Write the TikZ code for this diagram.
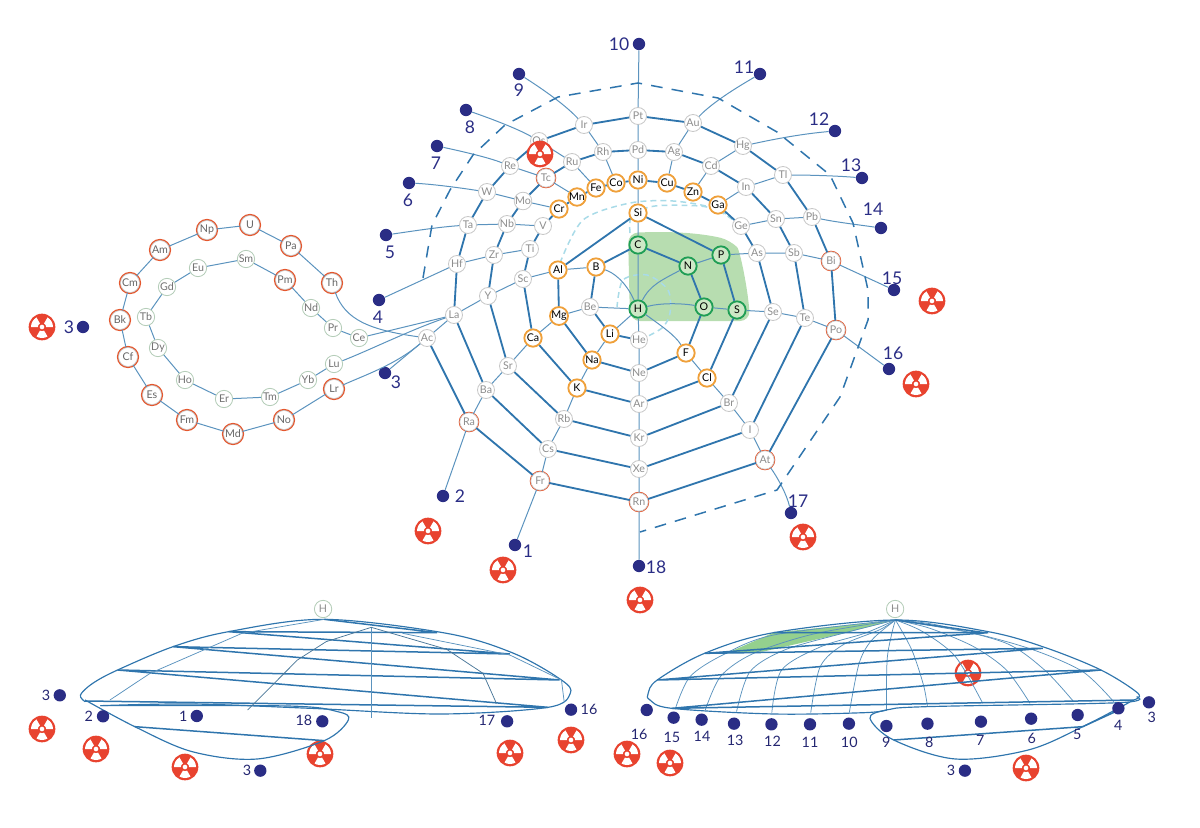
\documentclass[tikz,border=0pt]{standalone}
\usepackage{fontspec}
\setmainfont{Lato}
\definecolor{lnk}{HTML}{2F75AD}
\definecolor{thn}{HTML}{5B93BE}
\definecolor{dsh}{HTML}{2F75AD}
\definecolor{lgt}{HTML}{A9DBE8}
\definecolor{navy}{HTML}{2A2D85}
\definecolor{radc}{HTML}{E8432F}
\definecolor{orn}{HTML}{EFA03A}
\definecolor{grnb}{HTML}{1F9E55}
\definecolor{grnf}{HTML}{CDE8C6}
\definecolor{area}{HTML}{B7DDB0}
\definecolor{areb}{HTML}{94D08E}
\definecolor{grb}{HTML}{C8C8C8}
\definecolor{grt}{HTML}{8E8E8E}
\definecolor{lanb}{HTML}{B4CDB8}
\definecolor{actr}{HTML}{E4572E}
\tikzset{
 el/.style={circle,fill=white,inner sep=0pt,font=\fontsize{6.4}{6.4}\selectfont},
 gr/.style={el,draw=grb,line width=.5pt,text=grt,minimum size=10.2pt},
 orb/.style={el,draw=orn,line width=1.1pt,text=black,minimum size=10.4pt},
 gnb/.style={el,draw=grnb,line width=1.1pt,fill=grnf,text=black,minimum size=10.4pt},
 rd/.style={el,draw=grb,line width=.4pt,text=grt,minimum size=11pt,preaction={draw=actr,line width=1.3pt}},
 act/.style={el,draw=grb,line width=.4pt,text=black!60,minimum size=11.4pt,preaction={draw=actr,line width=1.9pt}},
 lan/.style={el,draw=lanb,line width=.5pt,text=black!55,minimum size=10.4pt},
 thk/.style={draw=lnk,line width=1.1pt},
 thl/.style={draw=thn,line width=.6pt},
 lgh/.style={draw=lgt,line width=.9pt,dash pattern=on 3.5pt off 2.5pt},
 dsl/.style={draw=dsh,line width=.9pt,dash pattern=on 7pt off 5.5pt},
 dotn/.style={circle,fill=navy,inner sep=0pt,minimum size=7.4pt},
 labl/.style={text=navy,inner sep=0pt,font=\fontsize{10.5}{11}\selectfont},
 labs/.style={text=navy!85!black,inner sep=0pt,font=\fontsize{8.6}{9}\selectfont},
 radi/.pic={
  \fill[radc] (0,0) circle (8pt);
  \foreach \a in {30,150,270}{
   \fill[white] (\a-30:2.5pt) -- (\a-30:6.6pt) arc (\a-30:\a+30:6.6pt) -- (\a+30:2.5pt) arc (\a+30:\a-30:2.5pt) -- cycle;}
  \fill[white] (0,0) circle (1.4pt);
 }
}
\begin{document}
\begin{tikzpicture}[x=0.6pt,y=-0.6pt]
\useasboundingbox (0,0) rectangle (1200,828);
% green area
\fill[area,rounded corners=6pt] (628,233) .. controls (670,231) and (700,233) .. (730,240) .. controls (740,250) and (748,290) .. (750,321) -- (630,321) -- cycle;
% light dashed arcs
\draw[lgh] plot[smooth] coordinates {(640,340) (662,328) (670,313) (668,290) (647,275) (623,280) (617,307)};
\draw[lgh] plot[smooth] coordinates {(560,263) (583,220) (630,203) (673,201) (713,208) (737,223)};
\draw[lgh] plot[smooth] coordinates {(630,233) (632,215) (655,206) (700,206) (722,212) (738,222)};
% elements
\foreach \n/\x/\y in {Pt/638/116,Ir/584/125,Au/693/123,Os/539/141,Re/510/166,Ru/572/162,Rh/603/152,Pd/638/150,Ag/674/152,Cd/711/166,Hg/743/146,Tl/783/175,In/746/187,Sn/776/219,Pb/812/217,Ge/741/226,As/757/253,Sb/794/253,Se/773/312,Te/805/318,Be/590/307,He/639/340,Sc/523/279,Y/488/296,La/454/315,Ti/530/249,Zr/494/255,Hf/457/264,V/543/226,Nb/507/224,Ta/468/225,Mo/523/201,W/487/192,Sr/508/366,Ba/486/390,Rb/564/419,Cs/548/449,Ne/639/373,Ar/639/404,Br/729/403,I/750/430,Kr/639/438,Xe/639/469,Ac/427/338}
 {\node[gr] (\n) at (\x,\y) {\n};}
\foreach \n/\x/\y in {Ga/718/205,Zn/693/192,Cu/667/183,Ni/638/180,Co/616/183,Fe/596/188,Mn/577/197,Cr/559/209,Al/558/270,B/596/267,Si/638/213,Mg/559/316,Li/610/334,Ca/533/338,K/577/388,Na/592/360,F/686/353,Cl/707/378}
 {\node[orb] (\n) at (\x,\y) {\n};}
\foreach \n/\x/\y in {C/638/245,N/688/266,P/721/255,H/638/309,O/704/307,S/737/310}
 {\node[gnb] (\n) at (\x,\y) {\n};}
\foreach \n/\x/\y in {Tc/546/178,Bi/831/261,Po/836/330,Ra/469/422,Fr/540/481,At/765/460,Rn/639/502}
 {\node[rd] (\n) at (\x,\y) {\n};}
\foreach \n/\x/\y in {Th/332/283,Pa/291/246,U/250/225,Np/207/230,Am/160/250,Cm/130/283,Bk/120/320,Cf/128/357,Es/152/395,Fm/187/420,Md/233/434,No/284/420,Lr/334/389,Pm/285/280}
 {\node[act] (\n) at (\x,\y) {\n};}
\foreach \n/\x/\y in {Eu/198/268,Sm/246/259,Nd/311/308,Pr/333/328,Ce/359/338,Lu/334/364,Yb/308/380,Tm/270/397,Er/224/399,Ho/185/380,Dy/158/348,Tb/146/317,Gd/167/287}
 {\node[lan] (\n) at (\x,\y) {\n};}
% main-diagram dots and labels
\foreach \i/\x/\y/\lx/\ly in {10/639/44/619/44,9/519/74/519/90,8/466/110/470/127,7/437/146/436/163,6/409/183/408/200,5/386/235/390/252,4/379/300/378/317,3/385/373/396/382,2/443/496/460/496,1/515/545/528/551,18/639/566/656/567,17/791/513/798/501,16/889/369/893/353,15/894/290/892/278,14/881/228/873/209,13/862/178/851/165,12/835/131/819/119,11/760/74/744/67}
 {\node[dotn] (d\i) at (\x,\y) {}; \node[labl] (t\i) at (\lx,\ly) {\i};}
\node[dotn] (dL) at (83,327) {};
\node[labl] (tL) at (69,327) {3};
% thick period chains
\draw[thk] (He)--(Li)--(Be)--(B)--(C)--(N)--(O)--(F)--(Ne)--(Na)--(Mg)--(Al)--(Si)--(P)--(S)--(Cl)--(Ar)--(K)--(Ca)--(Sc)--(Ti)--(V)--(Cr)--(Mn)--(Fe)--(Co)--(Ni)--(Cu)--(Zn)--(Ga)--(Ge)--(As)--(Se)--(Br)--(Kr)--(Rb)--(Sr)--(Y)--(Zr)--(Nb)--(Mo)--(Tc)--(Ru)--(Rh)--(Pd)--(Ag)--(Cd)--(In)--(Sn)--(Sb)--(Te)--(I)--(Xe)--(Cs)--(Ba)--(La)--(Hf)--(Ta)--(W)--(Re)--(Os)--(Ir)--(Pt)--(Au)--(Hg)--(Tl)--(Pb)--(Bi)--(Po)--(At)--(Rn)--(Fr)--(Ra)--(Ac);
% thin group lines
\draw[thl] (H)--(Li)--(Na)--(K)--(Rb)--(Cs)--(Fr)--(d1);
\draw[thl] (H)--(Be)--(Mg)--(Ca)--(Sr)--(Ba)--(Ra)--(d2);
\draw[thl] (Al)--(Sc)--(Y)--(La)--(Ac)--(d3);
\draw[thl] (Ti)--(Zr)--(Hf)--(d4);
\draw[thl] (V)--(Nb)--(Ta) .. controls (440,227) and (420,230) .. (d5);
\draw[thl] (Cr)--(Mo)--(W) .. controls (455,187) and (430,184) .. (d6);
\draw[thl] (Mn)--(Tc)--(Re) .. controls (490,158) and (465,152) .. (d7);
\draw[thl] (Fe)--(Ru)--(Os) .. controls (520,130) and (495,120) .. (d8);
\draw[thl] (Co)--(Rh)--(Ir) .. controls (570,110) and (555,97) .. (d9);
\draw[thl] (Ni)--(Pd)--(Pt)--(d10);
\draw[thl] (Cu)--(Ag)--(Au) .. controls (705,110) and (720,97) .. (d11);
\draw[thl] (Zn)--(Cd)--(Hg) .. controls (770,140) and (800,134) .. (d12);
\draw[thl] (Al)--(B);
\draw[thl] (Ga)--(In)--(Tl) .. controls (810,175) and (840,176) .. (d13);
\draw[thl] (Ge)--(Sn)--(Pb) .. controls (835,222) and (860,225) .. (d14);
\draw[thl] (N)--(P)--(As)--(Sb)--(Bi)--(d15);
\draw[thl] (O)--(S)--(Se)--(Te)--(Po)--(d16);
\draw[thl] (F)--(Cl)--(Br)--(I)--(At) .. controls (778,478) and (787,495) .. (d17);
\draw[thl] (Si)--(Ni) (C)--(Si) (C)--(H)--(He)--(Ne)--(Ar)--(Kr)--(Xe)--(Rn)--(d18);
\draw[thl] (B) .. controls (612,272) and (625,280) .. (H);
\draw[thl] (H) .. controls (650,285) and (662,280) .. (N);
\draw[thl] (H) .. controls (660,303) and (680,303) .. (O);
\draw[thl] (H) .. controls (660,325) and (675,335) .. (F);
% f-block
\draw[thl] (Ce)--(Pr)--(Nd)--(Pm)--(Sm)--(Eu)--(Gd)--(Tb)--(Dy)--(Ho)--(Er)--(Tm)--(Yb)--(Lu);
\draw[thl] (Th)--(Pa)--(U)--(Np)--(Am)--(Cm)--(Bk)--(Cf)--(Es)--(Fm)--(Md)--(No)--(Lr);
\draw[thl] (Ce)--(La);
\draw[thl] (Lu) .. controls (370,350) and (410,330) .. (La);
\draw[thl] (Lr) .. controls (365,375) and (395,365) .. (Ac);
\draw[thl] (Th) .. controls (345,320) and (370,330) .. (Ac);
% dashed outer period 7
\draw[dsl] plot coordinates {(423,278) (432,225) (450,190) (473,155) (505,125) (558,97) (638,83) (718,98) (777,132) (830,175) (853,223) (868,290) (868,320) (840,397) (777,490) (640,532)};
% radiation signs
\foreach \x/\y in {42/327,540/154,932/301,916/384,803/537,640/600,503/570,428/531,42/729,96/749,185/767,320/754,510/753,571/740,627/754,670/763,968/673,1026/768}
 {\pic at (\x,\y) {radi};}
% lower-left lens
\begin{scope}[x=0.2296pt,y=-0.2pt,shift={(12pt,-354pt)}]
\node[lan,text=grt] (Hl) at (792,57) {H};
\draw[thl,draw=lnk,line width=.7pt] plot[smooth,tension=.55] coordinates {(170,335) (158,315) (190,280) (255,240) (400,170) (545,125) (795,88) (1115,130) (1290,190) (1415,270) (1438,310) (1380,352) (1100,372) (760,355) (450,342) (210,347)};
\draw[thl,draw=lnk,line width=.7pt] plot[smooth,tension=.55] coordinates {(210,347) (700,348) (830,365) (858,390) (795,452) (620,507) (450,485) (300,410) (170,330)};
\draw[thk,line width=.9pt] (795,88)--(1090,128)--(545,125)--(1280,192)--(400,170)--(1410,270)--(255,240)--(1380,352)--(170,333);
\draw[thk,line width=.9pt] (300,410)--(795,452);
\draw[thl,line width=.45pt] (918,112)--(918,385);
\draw[thl,line width=.45pt,draw=thn!80!black] (918,112)--(800,155)--(725,210)--(595,360);
\draw[thl,line width=.45pt,draw=thn!80!black] (918,112)--(1115,178)--(1210,250)--(1245,340);
\draw[thl,line width=.45pt] (1000,130)--(1280,195)--(1415,270)--(1422,335);
\draw[thl,line width=.45pt] (795,88)--(580,130)--(340,250)--(235,330);
\foreach \n/\t/\x/\y/\lx/\ly in {a/3/104/316/68/316,b/2/217/379/180/378,c/1/462/378/427/378,e/18/790/394/742/392,f/3/628/542/593/542,g/17/1273/394/1220/392,h/16/1440/359/1487/359}
 {\node[dotn] (dl\n) at (\x,\y) {}; \node[labs] (tl\n) at (\lx,\ly) {\t};}
\end{scope}
% lower-right lens
\begin{scope}[x=0.2182pt,y=-0.2pt,shift={(366pt,-354pt)}]
\node[lan,text=grt] (Hr) at (784,57) {H};
\fill[areb] (785,90)--(450,128)--(320,190)--(420,185)--(650,128)--cycle;
\foreach \c in {{(180,355) (220,260) (310,195) (450,135) (785,90)},{(262,360) (305,258) (395,190) (560,132) (785,90)},{(348,365) (385,245) (480,180) (640,130) (785,90)},{(445,368) (472,240) (580,170) (700,130) (785,90)},{(552,368) (578,230) (640,165) (740,120) (785,90)},{(658,368) (685,220) (720,150) (785,90)},{(760,362) (762,210) (775,130) (785,90)},{(873,350) (862,285) (830,180) (785,90)},{(1025,340) (950,200) (860,125) (785,90)},{(1155,340) (1090,240) (1000,170) (880,115) (785,90)},{(1275,335) (1195,240) (1090,160) (900,105) (785,90)},{(1385,335) (1300,245) (1165,180) (1000,130) (785,90)}}
 {\draw[thl,line width=.45pt] plot[smooth,tension=.5] coordinates \c;}
\draw[thl,draw=lnk,line width=.7pt] plot[smooth,tension=.55] coordinates {(760,360) (700,368) (450,372) (170,355) (110,330) (105,310) (130,270) (260,190) (450,128) (785,90) (1040,125) (1195,172) (1350,240) (1452,310) (1440,330)};
\draw[thl,draw=lnk,line width=.7pt] plot[smooth,tension=.55] coordinates {(1448,320) (1400,338) (870,350) (760,360) (715,385) (780,450) (950,507) (1150,480) (1300,410) (1440,330)};
\draw[thk,line width=.9pt] (785,90)--(1030,128)--(450,128);
\draw[thk,line width=.9pt] (1040,128)--(260,190)--(1190,175)--(130,270)--(1350,240)--(170,355)--(1440,330);
\draw[thk,line width=.9pt] (1400,360)--(1300,410)--(780,450);
\foreach \n/\t/\x/\y/\lx/\ly in {a/16/101/360/80/432,b/15/175/383/170/443,c/14/252/389/253/438,e/13/341/401/344/452,f/12/444/403/447/455,g/11/550/403/550/458,h/10/657/401/658/458,i/9/760/408/760/457,j/8/873/401/878/457,k/7/1020/395/1018/450,l/6/1158/386/1160/445,m/5/1286/375/1285/432,n/4/1398/355/1398/407,o/3/1482/337/1490/382,p/3/976/542/938/542}
 {\node[dotn] (dr\n) at (\x,\y) {}; \node[labs] (tr\n) at (\lx,\ly) {\t};}
\end{scope}
\end{tikzpicture}
\end{document}
